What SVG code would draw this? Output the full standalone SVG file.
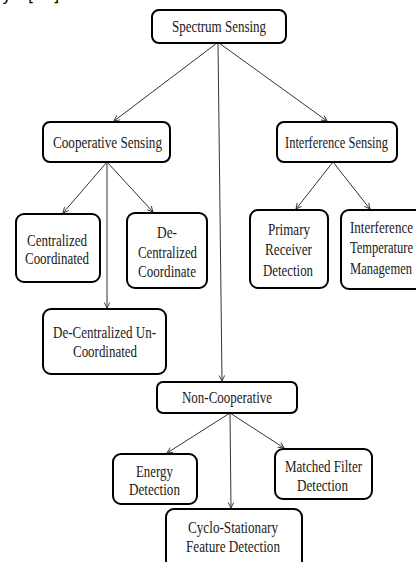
<svg xmlns="http://www.w3.org/2000/svg" width="416" height="562" viewBox="0 0 416 562">
  <style>
    .box { fill: #ffffff; stroke: #000000; stroke-width: 2; }
    .lbl { font-family: "Liberation Serif", "Times New Roman", "DejaVu Serif", serif; font-size: 17px; fill: #1a1a1a; }
    .mid { text-anchor: middle; }
    .edge { stroke: #333333; stroke-width: 1; fill: none; marker-end: url(#arrow); }
    .cap { font-family: "DejaVu Sans", sans-serif; font-size: 16px; fill: #000000; }
  </style>
  <defs>
    <marker id="arrow" viewBox="0 0 10 10" refX="9" refY="5" markerWidth="7" markerHeight="7" orient="auto" markerUnits="userSpaceOnUse">
      <path d="M1,1 L9,5 L1,9" fill="none" stroke="#333333" stroke-width="1.3"/>
    </marker>
  </defs>

  <rect width="416" height="562" fill="#ffffff"/>

  <!-- caption tail from the preceding line -->
  <text class="cap" y="1"><tspan x="2">y</tspan><tspan x="28">[</tspan><tspan x="53">]</tspan></text>

  <g id="connectors">
    <line class="edge" x1="217" y1="43" x2="114" y2="121"/>
    <line class="edge" x1="219" y1="43" x2="327" y2="121"/>
    <line class="edge" x1="218" y1="43" x2="222" y2="381"/>
    <line class="edge" x1="107" y1="162" x2="63" y2="213"/>
    <line class="edge" x1="107" y1="162" x2="153" y2="212"/>
    <line class="edge" x1="107" y1="162" x2="107" y2="308"/>
    <line class="edge" x1="333" y1="162" x2="296" y2="209"/>
    <line class="edge" x1="333" y1="162" x2="370" y2="209"/>
    <line class="edge" x1="230" y1="413" x2="167" y2="453"/>
    <line class="edge" x1="230" y1="413" x2="284" y2="448"/>
    <line class="edge" x1="230" y1="413" x2="231" y2="508"/>
  </g>

  <g id="spectrum-sensing">
    <rect class="box" x="152" y="10" width="134" height="33" rx="7"/>
    <text class="lbl mid" x="219" y="32" textLength="94" lengthAdjust="spacingAndGlyphs">Spectrum Sensing</text>
  </g>

  <g id="cooperative-sensing">
    <rect class="box" x="43" y="122" width="127" height="40" rx="7"/>
    <text class="lbl mid" x="107.5" y="148" textLength="109" lengthAdjust="spacingAndGlyphs">Cooperative Sensing</text>
  </g>

  <g id="interference-sensing">
    <rect class="box" x="277" y="122" width="120" height="40" rx="7"/>
    <text class="lbl mid" x="336.5" y="148" textLength="103" lengthAdjust="spacingAndGlyphs">Interference Sensing</text>
  </g>

  <g id="centralized-coordinated">
    <rect class="box" x="16" y="214" width="84" height="68" rx="8"/>
    <text class="lbl mid" x="57" y="246" textLength="60" lengthAdjust="spacingAndGlyphs">Centralized</text>
    <text class="lbl mid" x="57" y="264" textLength="64" lengthAdjust="spacingAndGlyphs">Coordinated</text>
  </g>

  <g id="decentralized-coordinate">
    <rect class="box" x="127" y="213" width="80" height="75" rx="8"/>
    <text class="lbl mid" x="167" y="238" textLength="20" lengthAdjust="spacingAndGlyphs">De-</text>
    <text class="lbl mid" x="167.5" y="258" textLength="59" lengthAdjust="spacingAndGlyphs">Centralized</text>
    <text class="lbl mid" x="167" y="277" textLength="58" lengthAdjust="spacingAndGlyphs">Coordinate</text>
  </g>

  <g id="primary-receiver-detection">
    <rect class="box" x="250" y="210" width="78" height="78" rx="8"/>
    <text class="lbl mid" x="289" y="235" textLength="42" lengthAdjust="spacingAndGlyphs">Primary</text>
    <text class="lbl mid" x="288.5" y="255" textLength="47" lengthAdjust="spacingAndGlyphs">Receiver</text>
    <text class="lbl mid" x="288" y="276" textLength="50" lengthAdjust="spacingAndGlyphs">Detection</text>
  </g>

  <g id="interference-temperature">
    <rect class="box" x="341" y="210" width="90" height="79" rx="8"/>
    <text class="lbl" x="350" y="233" textLength="63" lengthAdjust="spacingAndGlyphs">Interference</text>
    <text class="lbl" x="350" y="253" textLength="63" lengthAdjust="spacingAndGlyphs">Temperature</text>
    <text class="lbl" x="350" y="274" textLength="62" lengthAdjust="spacingAndGlyphs">Managemen</text>
  </g>

  <g id="decentralized-uncoordinated">
    <rect class="box" x="43" y="309" width="123" height="65" rx="8"/>
    <text class="lbl mid" x="104.5" y="338" textLength="103" lengthAdjust="spacingAndGlyphs">De-Centralized Un-</text>
    <text class="lbl mid" x="105" y="357" textLength="64" lengthAdjust="spacingAndGlyphs">Coordinated</text>
  </g>

  <g id="non-cooperative">
    <rect class="box" x="157" y="382" width="140" height="31" rx="6"/>
    <text class="lbl mid" x="227" y="403" textLength="90" lengthAdjust="spacingAndGlyphs">Non-Cooperative</text>
  </g>

  <g id="energy-detection">
    <rect class="box" x="113" y="454" width="84" height="50" rx="8"/>
    <text class="lbl mid" x="154.5" y="477" textLength="37" lengthAdjust="spacingAndGlyphs">Energy</text>
    <text class="lbl mid" x="154.5" y="495" textLength="51" lengthAdjust="spacingAndGlyphs">Detection</text>
  </g>

  <g id="matched-filter-detection">
    <rect class="box" x="275" y="449" width="97" height="50" rx="8"/>
    <text class="lbl mid" x="323.5" y="472" textLength="77" lengthAdjust="spacingAndGlyphs">Matched Filter</text>
    <text class="lbl mid" x="322.5" y="491" textLength="51" lengthAdjust="spacingAndGlyphs">Detection</text>
  </g>

  <g id="cyclostationary-feature-detection">
    <rect class="box" x="166" y="509" width="136" height="62" rx="8"/>
    <text class="lbl mid" x="233" y="533" textLength="90" lengthAdjust="spacingAndGlyphs">Cyclo-Stationary</text>
    <text class="lbl mid" x="233" y="552" textLength="94" lengthAdjust="spacingAndGlyphs">Feature Detection</text>
  </g>
</svg>
